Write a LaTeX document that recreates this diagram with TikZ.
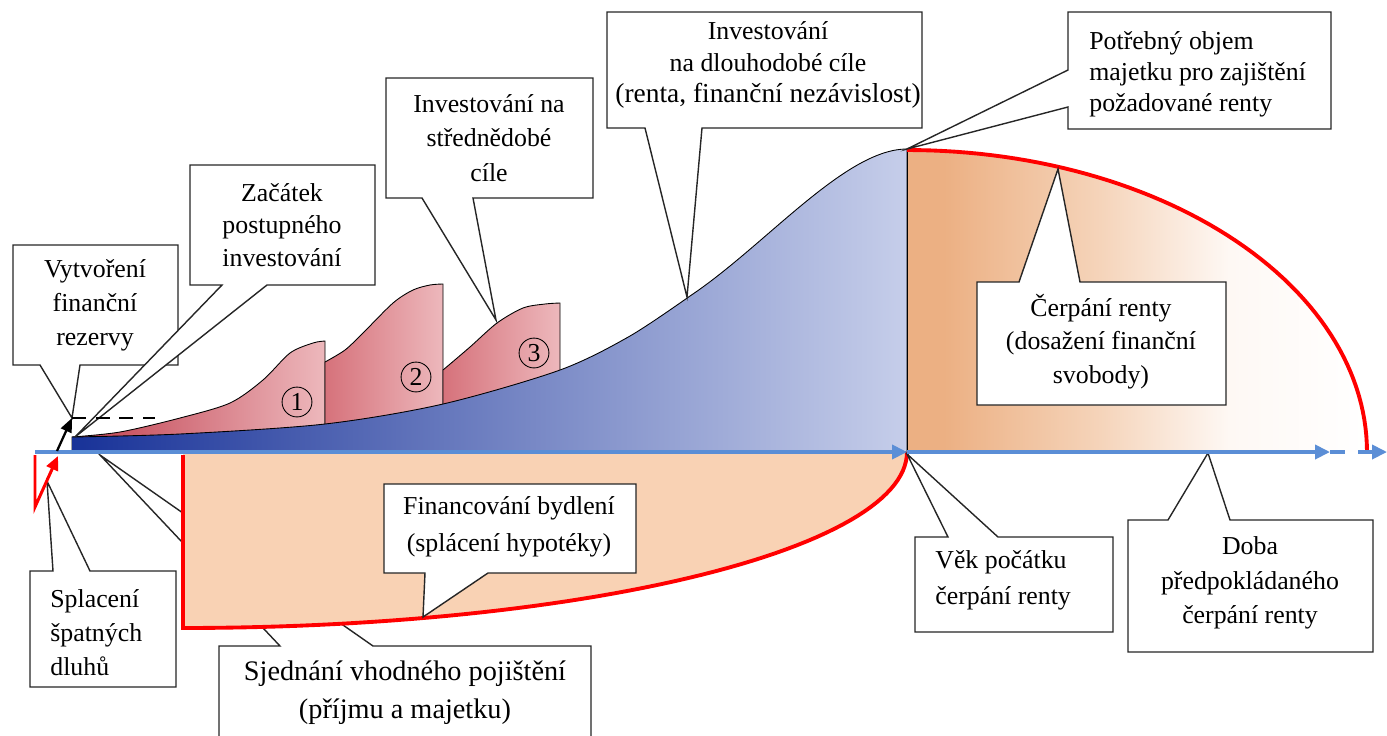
\documentclass[tikz,border=0pt]{standalone}
\usepackage{fontspec}
\setmainfont{Liberation Serif}
\usetikzlibrary{arrows.meta}
\definecolor{axisblue}{RGB}{91,142,214}
\definecolor{peach}{RGB}{249,210,180}
\definecolor{orL}{RGB}{236,176,131}
\definecolor{orM}{RGB}{245,212,186}
\definecolor{orW}{RGB}{254,248,244}
\definecolor{blueL}{RGB}{24,50,152}
\definecolor{blueR}{RGB}{198,206,234}
\definecolor{finA}{RGB}{192,62,78}
\definecolor{finB}{RGB}{214,114,123}
\definecolor{finR}{RGB}{237,184,188}
\pgfdeclarehorizontalshading{orfade}{100bp}{color(0bp)=(orL); color(29bp)=(orL); color(46bp)=(orM); color(60bp)=(orW); color(75bp)=(white); color(100bp)=(white)}
\begin{document}
\begin{tikzpicture}[x=0.02cm,y=-0.02cm,
  callout/.style={fill=white, draw=black!85, line width=0.8pt, line join=miter},
  lbl/.style={inner sep=0pt, align=center, font=\fontsize{14.7}{19.3}\selectfont},
  redline/.style={draw=red, line width=2.2pt},
  axisline/.style={draw=axisblue, line width=2pt},
  axtip/.style={-{Triangle[length=8.5pt,width=8pt]}},
  outline/.style={draw=black, line width=0.5pt},
  numc/.style={draw=black, line width=0.5pt, circle, inner sep=0pt, minimum size=17pt, font=\fontsize{14.7}{17}\selectfont}]
\useasboundingbox (0,0) rectangle (1387,735);

% tips
\coordinate (tipA) at (72,418);
\coordinate (tipB) at (75,437);
\coordinate (tipC) at (496,320);
\coordinate (tipD) at (687,297);
\coordinate (tipE) at (907,149);
\coordinate (tipF) at (1058,169);
\coordinate (tipG) at (907,454);
\coordinate (tipH) at (1208,453);
\coordinate (tipI) at (423,617);
\coordinate (tipJ) at (100,455);
\coordinate (tipK) at (47,481);

% callout behind the housing area
\path[callout] (219,646) -- (280,646) -- (tipJ) -- (373,646) -- (591,646) -- (591,745) -- (219,745) -- cycle;

% red fins
\shadedraw[outline, left color=finA, right color=finR] (72,452) -- plot[smooth, tension=0.5] coordinates {(72,437) (120,432) (180,418) (230,403) (263,380) (290,353) (313,343) (325,341)} -- (325,452) -- cycle;
\shadedraw[outline, left color=finB, right color=finR] (325,452) -- plot[smooth, tension=0.5] coordinates {(325,362) (345,350) (363,333) (393,303) (413,290) (430,285) (443,284)} -- (443,452) -- cycle;
\shadedraw[outline, left color=finB, right color=finR] (443,452) -- plot[smooth, tension=0.5] coordinates {(443,370) (470,347) (497,323) (523,308) (545,304) (560,303)} -- (560,452) -- cycle;

% blue growth area
\shade[left color=blueL, right color=blueR] (72,452) -- plot[smooth, tension=0.5] coordinates {(72,437) (180,434) (325,424) (443,404) (560,370) (630,336) (690,296)} .. controls (765,246) and (845,149) .. (907,149) -- (907,452) -- cycle;
\draw[outline] plot[smooth, tension=0.5] coordinates {(72,437) (180,434) (325,424) (443,404) (560,370) (630,336) (690,296)} .. controls (765,246) and (845,149) .. (907,149) -- (907,452);

% rent drawing area
\shade[shading=orfade] (907,452) -- plot[domain=0:90, samples=60] ({907+460*sin(\x)}, {452-302*cos(\x)}) -- cycle;
\draw[outline] (907,149) -- (907,452);
\draw[redline] plot[domain=0:90, samples=60] ({907+460*sin(\x)}, {452-302*cos(\x)});

% housing area
\fill[peach] (183,452) -- (183,628) -- plot[domain=0:90, samples=60] ({183+724*sin(\x)}, {452+176*cos(\x)}) -- cycle;
\draw[redline] (183,455) -- (183,628) -- plot[domain=0:90, samples=60] ({183+724*sin(\x)}, {452+176*cos(\x)});

% circled numbers
\node[numc] (c1) at (297,402) {1};
\node[numc] (c2) at (416,377) {2};
\node[numc] (c3) at (534,353) {3};

% callouts
\path[callout] (13,245) -- (178,245) -- (178,365) -- (80,365) -- (tipA) -- (40,365) -- (13,365) -- cycle;
\node[lbl] (t1) at (95,305) {Vytvoření\\finanční\\rezervy};

\path[callout] (190,165) -- (375,165) -- (375,285) -- (267,285) -- (tipB) -- (222,285) -- (190,285) -- cycle;
\node[lbl, font=\fontsize{14.7}{18.7}\selectfont] (t2) at (282,225) {Začátek\\postupného\\investování};

\path[callout] (386,78) -- (593,78) -- (593,198) -- (473,198) -- (tipC) -- (422,198) -- (386,198) -- cycle;
\node[lbl, font=\fontsize{14.7}{19.5}\selectfont] (t3) at (489,138) {Investování na\\střednědobé\\cíle};

\path[callout] (607,12) -- (922,12) -- (922,128) -- (702,128) -- (tipD) -- (645,128) -- (607,128) -- cycle;
\node[lbl, font=\fontsize{14.7}{18.1}\selectfont] (t4) at (768,65) {Investování\\na dlouhodobé cíle\\{\fontsize{15.6}{18.1}\selectfont(renta, finanční nezávislost)}};

\path[callout] (1068,12) -- (1331,12) -- (1331,129) -- (1068,129) -- (1068,107) -- (tipE) -- (1068,70) -- cycle;
\node[lbl, align=left, anchor=west, font=\fontsize{14.7}{17.6}\selectfont] (t5) at (1089,74) {Potřebný objem\\majetku pro zajištění\\požadované renty};

\path[callout] (977,282) -- (1019,282) -- (tipF) -- (1080,282) -- (1226,282) -- (1226,405) -- (977,405) -- cycle;
\node[lbl, font=\fontsize{14.7}{19}\selectfont] (t6) at (1101,341.5) {Čerpání renty\\(dosažení finanční\\svobody)};

\path[callout] (915,537) -- (948,537) -- (tipG) -- (998,537) -- (1113,537) -- (1113,632) -- (915,632) -- cycle;
\node[lbl, align=left, anchor=west, font=\fontsize{14.7}{20.4}\selectfont] (t7) at (935,580) {Věk počátku\\čerpání renty};

\path[callout] (1128,520) -- (1168,520) -- (tipH) -- (1230,520) -- (1373,520) -- (1373,652) -- (1128,652) -- cycle;
\node[lbl, font=\fontsize{14.7}{19.8}\selectfont] (t8) at (1250,583) {Doba\\předpokládaného\\čerpání renty};

\path[callout] (384,484) -- (636,484) -- (636,573) -- (488,573) -- (tipI) -- (425,573) -- (384,573) -- cycle;
\node[lbl, font=\fontsize{14.7}{21}\selectfont] (t9) at (509,526.5) {Financování bydlení\\(splácení hypotéky)};

\node[lbl, font=\fontsize{16.1}{22}\selectfont] (t10) at (405,692.5) {Sjednání vhodného pojištění\\(příjmu a majetku)};

\path[callout] (30,571) -- (53,571) -- (tipK) -- (90,571) -- (176,571) -- (176,687) -- (30,687) -- cycle;
\node[lbl, align=left, anchor=west, font=\fontsize{14.7}{19.5}\selectfont] (t11) at (50,632.5) {Splacení\\špatných\\dluhů};

% time axis
\coordinate (ax0) at (35,452);
\coordinate (ax1) at (907,452);
\coordinate (ax2) at (1330,452);
\coordinate (ax3) at (1345,452);
\coordinate (ax4) at (1358,452);
\coordinate (ax5) at (1387,452);
\draw[axisline, axtip] (ax0) -- (ax1);
\draw[axisline, axtip] (ax1) -- (ax2);
\draw[axisline] (ax2) -- (ax3);
\draw[axisline, axtip, dash pattern=on 8.5pt off 3pt] (ax4) -- (ax5);

% reserve arrow and debt arrow
\coordinate (r0) at (57,451);
\coordinate (d0) at (35,455);
\coordinate (d1) at (35,507);
\coordinate (d2) at (58,456);
\coordinate (dashend) at (155,418);
\draw[line width=1.3pt, -{Triangle[length=8pt,width=6.5pt]}] (r0) -- (tipA);
\draw[line width=1.3pt, dash pattern=on 8pt off 5.5pt] (tipA) -- (dashend);
\draw[draw=red, line width=1.7pt, -{Triangle[length=8pt,width=7pt]}] (d0) -- (d1) -- (d2);
\end{tikzpicture}
\end{document}
